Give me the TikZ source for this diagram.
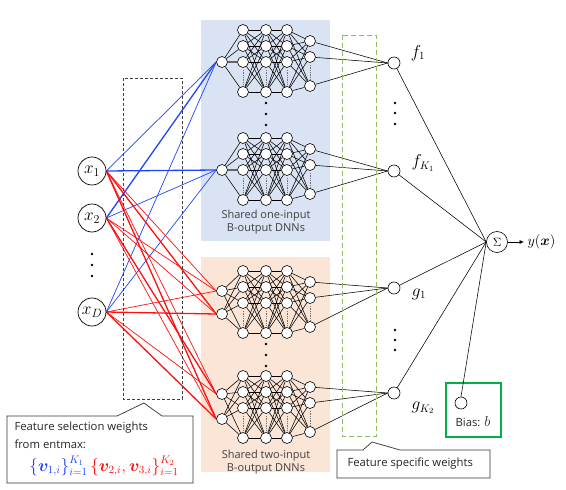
\documentclass[tikz,border=0pt]{standalone}
\usepackage{fontspec}
\setsansfont{Open Sans}
\usepackage{amsmath,bm}
\usetikzlibrary{arrows.meta}
\pgfdeclarelayer{bg}
\pgfdeclarelayer{edges}
\pgfsetlayers{bg,edges,main}
\definecolor{pblue}{HTML}{DAE3F3}
\definecolor{porange}{HTML}{FBE5D6}
\definecolor{lblue}{HTML}{1F45FC}
\definecolor{lred}{HTML}{FF1010}
\definecolor{dgreen}{HTML}{8CC063}
\definecolor{bgreen}{HTML}{00B050}
\definecolor{txtgray}{HTML}{404040}
\tikzset{
  neuron/.style={circle,draw,fill=white,minimum size=11pt,inner sep=0pt,line width=0.6pt},
  xnode/.style={circle,draw,fill=white,minimum size=28pt,inner sep=0pt,line width=0.7pt,font=\fontsize{18}{20}\selectfont},
  fnode/.style={circle,draw,fill=white,minimum size=12pt,inner sep=0pt,line width=0.6pt},
  conn/.style={line width=0.55pt},
  thickconn/.style={line width=1.4pt,black!60},
  ddots/.style={densely dotted,line width=0.7pt,black!55},
  bl/.style={lblue,line width=0.7pt},
  blthick/.style={lblue,line width=1.3pt},
  rd/.style={lred,line width=0.7pt},
  rdthick/.style={lred,line width=1.3pt},
  bigdot/.style={circle,fill=black,inner sep=0pt,minimum size=2.6pt},
  panel/.style={font=\sffamily\fontsize{11}{12.5}\selectfont,text=txtgray},
  mlabel/.style={font=\fontsize{16}{18}\selectfont},
  sanstxt/.style={font=\sffamily\fontsize{11.3}{13}\selectfont,text=black!85},
  callout/.style={draw=black!80,line width=0.7pt,fill=white},
}
\newcommand\mydnn[3]{%
  \foreach \l/\xx in {1/243,2/266,3/287}{%
    \foreach \i/\dy in {1/-32,2/-16,3/0,4/30}{%
      \node[neuron] (#1h\l n\i) at ({\xx},{#2+(\dy)}) {};
    }
    \draw[ddots] ({\xx},{#2+8}) -- ({\xx},{#2+23});
  }
  \foreach \i/\dy in {1/-21,2/-5,3/24}{%
    \node[neuron] (#1o\i) at (310,{#2+(\dy)}) {};
  }
  \draw[ddots] (310,{#2+3}) -- (310,{#2+17});
  \foreach \dy [count=\k] in {#3}{%
    \node[neuron] (#1in\k) at (222,{#2+(\dy)}) {};
  }
  \begin{pgfonlayer}{edges}
    \foreach \i in {1,...,4}{%
      \foreach \j in {1,...,4}{%
        \draw[conn] (#1h1n\i) -- (#1h2n\j);
        \draw[conn] (#1h2n\i) -- (#1h3n\j);
      }
      \foreach \j in {1,2,3}{\draw[conn] (#1h3n\i) -- (#1o\j);}
    }
    \foreach \dy [count=\k] in {#3}{%
      \foreach \j in {1,...,4}{\draw[conn] (#1in\k) -- (#1h1n\j);}
    }
  \end{pgfonlayer}
}
\begin{document}
\begin{tikzpicture}[x=1pt,y=-1pt]
\useasboundingbox (0,0) rectangle (566,490);
% panels
\begin{pgfonlayer}{bg}
  \fill[white] (0,0) rectangle (566,490);
  \fill[pblue] (201,20) rectangle (330,241);
  \fill[porange] (201,257) rectangle (330,472);
\end{pgfonlayer}
% DNNs
\mydnn{d1}{62}{0}
\mydnn{d2}{170}{0}
\mydnn{d3}{303}{-12,11}
\mydnn{d4}{408}{-14,11}
\begin{pgfonlayer}{edges}
  \draw[thickconn] (d1in1) -- (d1h1n3);
  \draw[thickconn] (d2in1) -- (d2h1n3);
\end{pgfonlayer}
% dots between DNNs
\foreach \yy in {103,114,125,344,355,366}{\node[bigdot] (dd\yy) at (266,\yy) {};}
% panel texts
\node[panel,align=center] (t1) at (266,222) {Shared one-input\\B-output DNNs};
\node[panel,align=center] (t2) at (266,462) {Shared two-input\\B-output DNNs};
% input nodes
\node[xnode] (x1) at (92,171) {$x_1$};
\node[xnode] (x2) at (92,218) {$x_2$};
\node[xnode] (xD) at (92,312) {$x_D$};
\foreach \yy in {254,265,276}{\node[bigdot] (xd\yy) at (92,\yy) {};}
% feature selection connections
\begin{pgfonlayer}{edges}
  \draw[bl] (x1.east) -- (d1in1.west);
  \draw[blthick] (x1.east) -- (d2in1.west);
  \draw[blthick] (x2.east) -- (d1in1.west);
  \draw[bl] (x2.east) -- (d2in1.west);
  \draw[bl] (xD.east) -- (d1in1.west);
  \draw[bl] (xD.east) -- (d2in1.west);
  \draw[rd] (x1.east) -- (d3in1.west);
  \draw[rdthick] (x1.east) -- (d3in2.west);
  \draw[rd] (x1.east) -- (d4in1.west);
  \draw[rdthick] (x1.east) -- (d4in2.west);
  \draw[rd] (x2.east) -- (d3in1.west);
  \draw[rd] (x2.east) -- (d3in2.west);
  \draw[rdthick] (x2.east) -- (d4in1.west);
  \draw[rd] (x2.east) -- (d4in2.west);
  \draw[rd] (xD.east) -- (d3in1.west);
  \draw[rdthick] (xD.east) -- (d3in2.west);
  \draw[rd] (xD.east) -- (d4in1.west);
  \draw[rdthick] (xD.east) -- (d4in2.west);
\end{pgfonlayer}
% dashed boxes
\draw[densely dashed,line width=0.7pt,black!75] (123,78) rectangle (182,399);
\draw[dashed,dash pattern=on 5pt off 3pt,line width=1pt,dgreen] (342,35) rectangle (376,436);
% feature nodes
\node[fnode] (f1) at (394,63) {};
\node[fnode] (fK) at (394,171) {};
\node[fnode] (g1) at (394,288) {};
\node[fnode] (gK) at (394,393) {};
\node[mlabel] (lf1) at (418,53) {$f_1$};
\node[mlabel] (lfK) at (423,163) {$f_{K_1}$};
\node[mlabel] (lg1) at (419,294) {$g_1$};
\node[mlabel] (lgK) at (423,408) {$g_{K_2}$};
\foreach \yy in {103,113,124,330,340,350}{\node[bigdot] (fd\yy) at (395,\yy) {};}
\begin{pgfonlayer}{edges}
  \foreach \j in {1,2,3}{%
    \draw[conn] (d1o\j) -- (f1.west);
    \draw[conn] (d2o\j) -- (fK.west);
    \draw[conn] (d3o\j) -- (g1.west);
    \draw[conn] (d4o\j) -- (gK.west);
  }
\end{pgfonlayer}
% sum
\node[circle,draw,fill=white,minimum size=21pt,inner sep=0pt,line width=0.6pt,font=\fontsize{13}{14}\selectfont] (sum) at (497,242) {$\Sigma$};
\node[font=\fontsize{15}{17}\selectfont,anchor=west] (yout) at (524,242) {$y(\bm{x})$};
\draw[line width=0.6pt,-{Latex[length=4.5pt,width=4pt]}] (sum.east) -- (yout.west);
\foreach \s in {f1,fK,g1,gK}{\draw[conn] (\s) -- (sum.west);}
% bias
\draw[bgreen,line width=1.5pt] (446,383) rectangle (501,437);
\node[fnode] (bias) at (461,403) {};
\node[sanstxt] (biast) at (473,422) {Bias: \fontsize{15}{16}\selectfont$b$};
\draw[conn] (bias.north) -- (sum.west);
% callout 1
\draw[callout] (7,416) -- (117,416) -- (144,403) -- (162,416) -- (193,416) -- (193,483) -- (7,483) -- cycle;
\node[sanstxt,anchor=west] (c1a) at (11,428) {Feature selection weights};
\node[sanstxt,anchor=west] (c1b) at (11,444) {from entmax:};
\node[font=\fontsize{16}{18}\selectfont] (c1c) at (104,466) {\color{lblue}$\{\bm{v}_{1,i}\}_{i=1}^{K_1}$\,\color{lred}$\{\bm{v}_{2,i},\bm{v}_{3,i}\}_{i=1}^{K_2}$};
% callout 2
\draw[callout] (337,450) -- (363,450) -- (372,442) -- (400,450) -- (490,450) -- (490,478) -- (337,478) -- cycle;
\node[sanstxt,anchor=west] (c2) at (344,464) {Feature specific weights};
\end{tikzpicture}
\end{document}
